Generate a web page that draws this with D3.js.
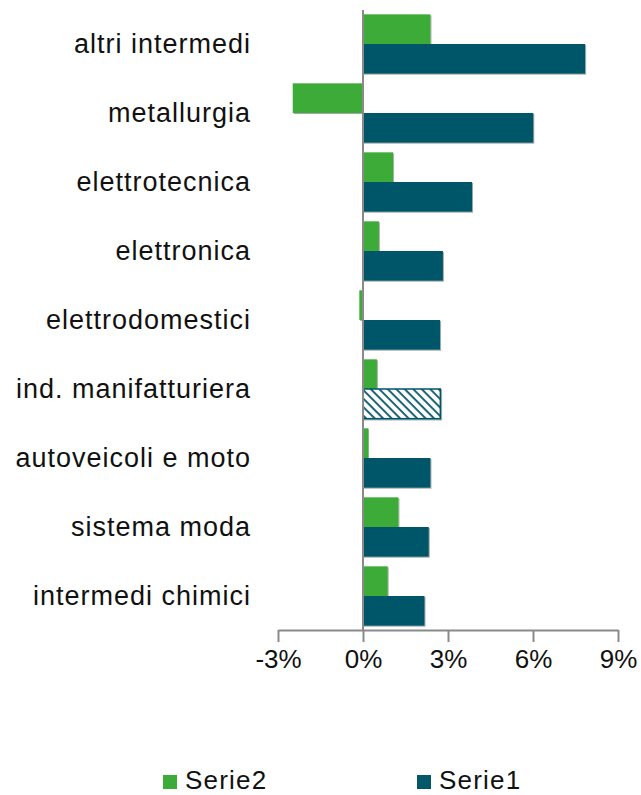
<!DOCTYPE html>
<html>
<head>
<meta charset="utf-8">
<script src="https://cdn.jsdelivr.net/npm/d3@7"></script>
<style>
  html, body { margin: 0; padding: 0; background: #fff; }
  svg { display: block; }
  text { font-family: "Liberation Sans", Arial, sans-serif; fill: #111; }
</style>
</head>
<body>
<svg id="chart" width="641" height="795"></svg>
<script>
// Sector growth, two series (percent)
const categories = [
  "altri intermedi", "metallurgia", "elettrotecnica", "elettronica",
  "elettrodomestici", "ind. manifatturiera", "autoveicoli e moto",
  "sistema moda", "intermedi chimici"
];
const serie2 = [2.38, -2.48, 1.06, 0.56, -0.13, 0.49, 0.19, 1.25, 0.87];
const serie1 = [7.84, 6.01, 3.85, 2.82, 2.72, 2.73, 2.38, 2.32, 2.17];
const tickValues = [-3, 0, 3, 6, 9];
const seriesNames = ["Serie2", "Serie1"];
const highlighted = "ind. manifatturiera";

const GREEN = "#3dab37";
const TEAL = "#045669";
const AXIS = "#8a8a8a";

const svg = d3.select("#chart");

const defs = svg.append("defs");
const hatch = defs.append("pattern")
  .attr("id", "hatch")
  .attr("patternUnits", "userSpaceOnUse")
  .attr("width", 6).attr("height", 6)
  .attr("patternTransform", "rotate(45)");
hatch.append("rect").attr("width", 6).attr("height", 6).attr("fill", "#fff");
hatch.append("rect").attr("x", 0).attr("y", 0).attr("width", 6).attr("height", 1.8).attr("fill", TEAL);

const shadow = defs.append("filter").attr("id", "shadow")
  .attr("x", "-5%").attr("y", "-5%").attr("width", "110%").attr("height", "120%");
shadow.append("feDropShadow")
  .attr("dx", 1).attr("dy", 1).attr("stdDeviation", 0.6)
  .attr("flood-color", "#000").attr("flood-opacity", 0.35);

const x = d3.scaleLinear().domain([-3, 9]).range([278, 618]);
const y = d3.scaleBand().domain(categories).range([9.5, 630.5])
  .paddingInner(0.14).paddingOuter(0.07);
const half = y.bandwidth() / 2;

const rows = categories.map((c, i) => ({ c, s2: serie2[i], s1: serie1[i] }));

// Serie2 bars (upper half of each band)
svg.append("g").selectAll("rect").data(rows).join("rect")
  .attr("x", d => x(Math.min(0, d.s2)))
  .attr("y", d => y(d.c))
  .attr("width", d => Math.abs(x(d.s2) - x(0)))
  .attr("height", half)
  .attr("fill", GREEN)
  .attr("filter", "url(#shadow)");

// Serie1 bars (lower half of each band)
svg.append("g").selectAll("rect").data(rows).join("rect")
  .attr("x", d => x(Math.min(0, d.s1)))
  .attr("y", d => y(d.c) + half)
  .attr("width", d => Math.abs(x(d.s1) - x(0)))
  .attr("height", half)
  .attr("fill", d => d.c === highlighted ? "url(#hatch)" : TEAL)
  .attr("stroke", d => d.c === highlighted ? TEAL : "none")
  .attr("stroke-width", 1.5)
  .attr("filter", "url(#shadow)");

// Horizontal value axis
const axisY = 630;
const xAxis = d3.axisBottom(x).tickValues(tickValues)
  .tickFormat(d => d + "%").tickSize(12).tickPadding(8).tickSizeOuter(0);
const gx = svg.append("g").attr("transform", `translate(0,${axisY})`).call(xAxis);
gx.select(".domain").attr("stroke", AXIS).attr("stroke-width", 2);
gx.selectAll(".tick line").attr("stroke", AXIS).attr("stroke-width", 2);
gx.selectAll(".tick text")
  .attr("font-size", 26).attr("fill", "#111")
  .attr("font-family", "Liberation Sans, Arial, sans-serif");

// Zero line
svg.append("line")
  .attr("x1", x(0)).attr("x2", x(0))
  .attr("y1", 10).attr("y2", axisY)
  .attr("stroke", AXIS).attr("stroke-width", 2);

// Category labels
svg.append("g").selectAll("text").data(categories).join("text")
  .attr("x", 251)
  .attr("y", d => y(d) + half)
  .attr("dy", "0.35em")
  .attr("text-anchor", "end")
  .attr("font-size", 27)
  .attr("letter-spacing", 1)
  .text(d => d);

// Legend
const legend = svg.append("g");
const legendItems = [
  { name: seriesNames[0], color: GREEN, x: 163 },
  { name: seriesNames[1], color: TEAL, x: 417 }
];
legend.selectAll("rect").data(legendItems).join("rect")
  .attr("x", d => d.x).attr("y", 775)
  .attr("width", 14).attr("height", 14)
  .attr("fill", d => d.color);
legend.selectAll("text").data(legendItems).join("text")
  .attr("x", d => d.x + 22).attr("y", 789)
  .attr("font-size", 26)
  .attr("letter-spacing", 1.2)
  .text(d => d.name);
</script>
</body>
</html>
